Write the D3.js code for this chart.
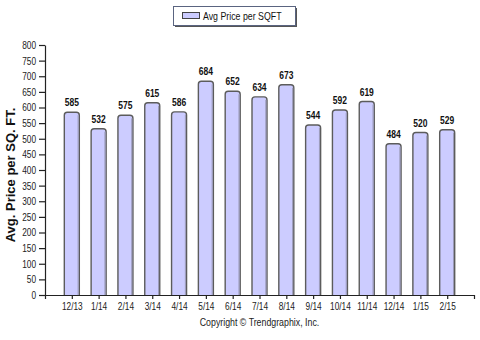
<!DOCTYPE html>
<html><head><meta charset="utf-8">
<script src="https://cdn.jsdelivr.net/npm/d3@7"></script>
<style>body{margin:0;background:#fff}svg{display:block}</style>
</head><body>
<script>
const categories = ["12/13","1/14","2/14","3/14","4/14","5/14","6/14","7/14","8/14","9/14","10/14","11/14","12/14","1/15","2/15"];
const values = [585,532,575,615,586,684,652,634,673,544,592,619,484,520,529];
const yTicks = [0,50,100,150,200,250,300,350,400,450,500,550,600,650,700,750,800];
const seriesName = "Avg Price per SQFT";
const yTitle = "Avg. Price per SQ. FT.";
const copyright = "Copyright \u00A9 Trendgraphix, Inc.";

const W = 480, H = 340;
const sans = "'Liberation Sans',Arial,sans-serif";
const svg = d3.select("body").append("svg").attr("width", W).attr("height", H);

// compress text horizontally to mimic a narrow UI font
function narrowText(sel, f) {
  sel.each(function() {
    const len = this.getComputedTextLength();
    d3.select(this).attr("textLength", len * f).attr("lengthAdjust", "spacingAndGlyphs");
  });
}

const x = d3.scalePoint().domain(categories).range([45, 474]).padding(1);
const y = d3.scaleLinear().domain([0, 800]).range([295, 45]);

// bars
const bw = 15, r = 3;
function barPath(cx, v) {
  const x0 = cx - bw/2, x1 = cx + bw/2, y0 = y(0), y1 = y(v);
  return `M${x0},${y0}V${y1+r}Q${x0},${y1} ${x0+r},${y1}H${x1-r}Q${x1},${y1} ${x1},${y1+r}V${y0}`;
}
svg.append("g").selectAll("path").data(values).join("path")
  .attr("d", (d,i) => barPath(x(categories[i]), d))
  .attr("fill", "#ccccff").attr("stroke", "#5c5c5c").attr("stroke-width", 1.4);
svg.append("g").selectAll("line").data(values).join("line")
  .attr("x1", (d,i) => x(categories[i]) + bw/2 - 1.2).attr("x2", (d,i) => x(categories[i]) + bw/2 - 1.2)
  .attr("y1", d => y(d) + 3).attr("y2", y(0))
  .attr("stroke", "#9a9ab8").attr("stroke-width", 1);

// value labels
svg.append("g").selectAll("text").data(values).join("text")
  .attr("x", (d,i) => x(categories[i])).attr("y", d => y(d) - 6)
  .attr("text-anchor", "middle").attr("font-family", sans).attr("font-weight", "bold")
  .attr("font-size", 10).attr("fill", "#111").text(d => d)
  .call(narrowText, 0.85);

// axes
const gx = svg.append("g").attr("transform", `translate(0,${y(0)})`)
  .call(d3.axisBottom(x).tickSize(4).tickSizeOuter(4).tickPadding(4));
const gy = svg.append("g").attr("transform", `translate(45,0)`)
  .call(d3.axisLeft(y).tickValues(yTicks).tickSize(6).tickSizeOuter(0).tickPadding(3));
[gx, gy].forEach(g => {
  g.selectAll("path,line").attr("stroke", "#222").attr("stroke-width", 1.2);
  g.selectAll("text").attr("font-family", sans).attr("font-size", 10.5).attr("fill", "#222")
    .call(narrowText, 0.79);
});

// y title
svg.append("text").attr("transform", "translate(15,175) rotate(-90)")
  .attr("text-anchor", "middle").attr("font-family", sans)
  .attr("font-weight", "bold").attr("font-size", 13).attr("fill", "#111").text(yTitle);

// copyright
svg.append("text").attr("x", 259.5).attr("y", 326).attr("text-anchor", "middle")
  .attr("font-family", sans).attr("font-size", 11).attr("fill", "#222").text(copyright)
  .call(narrowText, 0.8);

// legend
const lg = svg.append("g");
lg.append("rect").attr("x", 175).attr("y", 8).attr("width", 122).attr("height", 19).attr("fill", "#555");
lg.append("rect").attr("x", 173.5).attr("y", 6.5).attr("width", 122).attr("height", 19)
  .attr("fill", "#fff").attr("stroke", "#5a6480").attr("stroke-width", 1);
lg.append("rect").attr("x", 182.5).attr("y", 12.5).attr("width", 17).attr("height", 6)
  .attr("fill", "#ccccff").attr("stroke", "#444").attr("stroke-width", 1);
lg.append("text").attr("x", 203).attr("y", 19.5).attr("font-family", sans)
  .attr("font-size", 11).attr("fill", "#111").text(seriesName)
  .call(narrowText, 0.8);
</script>
</body></html>
